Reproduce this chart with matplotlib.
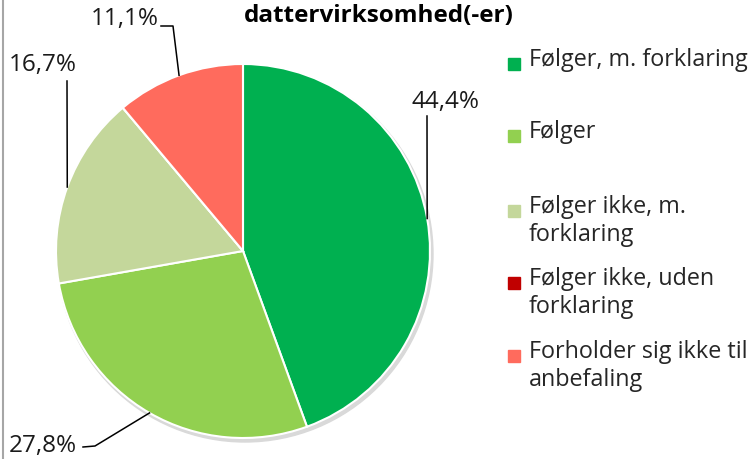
import numpy as np
import matplotlib
matplotlib.use("Agg")
import matplotlib.pyplot as plt
from matplotlib.patches import Rectangle, Circle

# data
categories = [
    "Følger, m. forklaring",
    "Følger",
    "Følger ikke, m.\nforklaring",
    "Følger ikke, uden\nforklaring",
    "Forholder sig ikke til\nanbefaling",
]
counts = [8, 5, 3, 0, 2]
labels_pct = ["44,4%", "27,8%", "16,7%", "", "11,1%"]
colors = ["#00B050", "#92D050", "#C4D79B", "#C00000", "#FF6B5D"]
title = "dattervirksomhed(-er)"

W, H = 752, 460
fig = plt.figure(figsize=(W / 100, H / 100), dpi=100)
ax = fig.add_axes([0, 0, 1, 1])
ax.set_xlim(0, W)
ax.set_ylim(H, 0)
ax.set_aspect("equal")
ax.axis("off")

cx, cy, r = 243, 252, 187
FONT = "Open Sans"
TXT = "#1a1a1a"

# soft shadow behind pie
ax.add_patch(Circle((cx + 2, cy + 3), r + 1, color="#d9d9d9", zorder=1))

# y axis inverted -> counterclock=True draws clockwise on screen
wedges, _ = ax.pie(counts, colors=colors, startangle=-90, counterclock=True,
                   center=(cx, cy), radius=r, frame=True,
                   wedgeprops=dict(edgecolor="white", linewidth=1.5))
for w in wedges:
    w.set_zorder(2)
ax.set_xlim(0, W)
ax.set_ylim(H, 0)
ax.axis("off")

# data labels with leader lines (anchor at wedge mid angle)
total = sum(counts)
cum = np.cumsum([0] + counts)
label_pos = {
    0: ((445, 102), [(427, 117)]),
    1: ((43, 446), [(83, 448), (95, 447)]),
    2: ((43, 65), [(67, 82)]),
    4: ((125, 19), [(161, 27), (173, 27)]),
}
for i, (pos, path) in label_pos.items():
    mid = (cum[i] + counts[i] / 2) / total * 360
    ang = np.deg2rad(90 - mid)
    ex, ey = cx + r * np.cos(ang), cy - r * np.sin(ang)
    xs = [p[0] for p in path] + [ex]
    ys = [p[1] for p in path] + [ey]
    ax.plot(xs, ys, color="black", lw=1.1, zorder=3)
    ax.text(pos[0], pos[1], labels_pct[i], fontsize=17.5, family=FONT,
            color=TXT, ha="center", va="center", zorder=4)

# title
ax.text(379, 16, title, fontsize=17.5, family=FONT, fontweight="bold",
        color="black", ha="center", va="center")

# legend
ys_leg = [65, 137, 212, 284, 357]
for c, lab, y in zip(colors, categories, ys_leg):
    ax.add_patch(Rectangle((508, y - 6), 12, 12, color=c, zorder=3))
    ax.text(529, y - 16.5, lab, fontsize=16.8, family=FONT, color="#262626",
            ha="left", va="top", linespacing=1.22)

# left frame line
ax.plot([2.5, 2.5], [0, H], color="#a6a6a6", lw=1.5)

fig.savefig("out.png", dpi=100)
